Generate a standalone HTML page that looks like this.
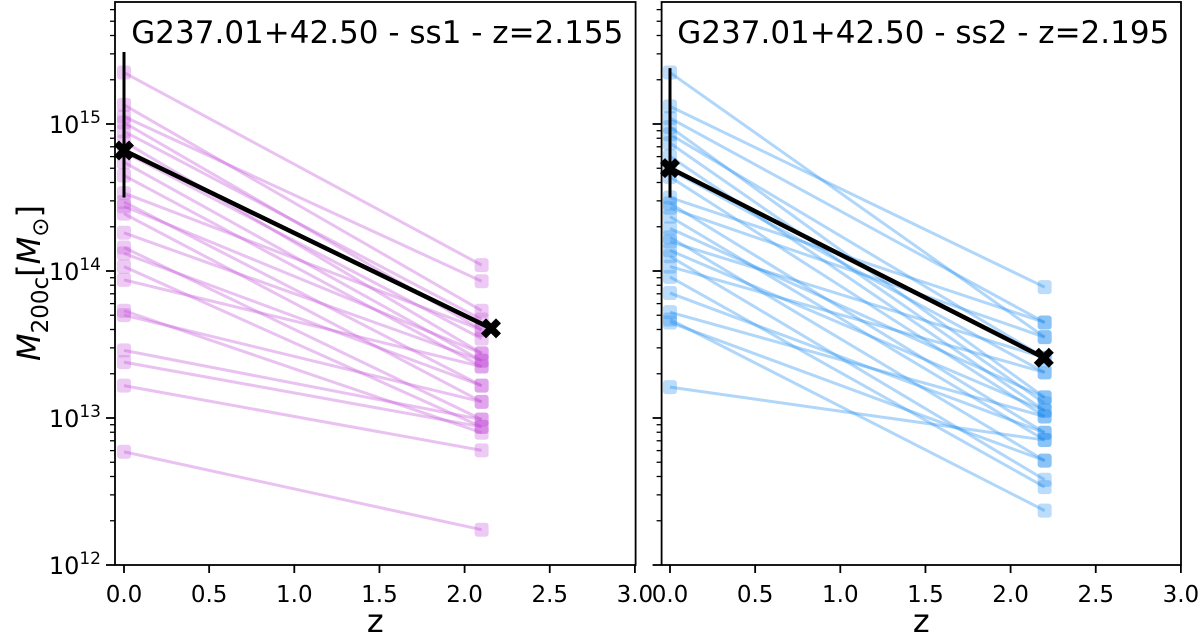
<!DOCTYPE html>
<html><head><meta charset="utf-8"><style>
body{margin:0;background:#fff}
svg text{font-family:"DejaVu Sans","Liberation Sans",sans-serif;fill:#000}
</style></head><body>
<svg id="chart" width="1200" height="638" viewBox="0 0 1200 638" xmlns="http://www.w3.org/2000/svg"></svg>
<script>
// Panel 1 (ss1) data: log10 M200c
const ss1Titles = "G237.01+42.50 - ss1 - z=2.155";
const ss1Z0 = [15.35,15.13,15.05,15.01,14.95,14.88,14.81,14.74,14.65,14.53,14.47,14.44,14.39,14.26,14.16,14.12,14.03,13.94,13.73,13.70,13.46,13.38,13.22,12.77];
const ss1Zend = [14.04,13.73,13.93,13.60,13.67,13.44,13.54,13.39,13.35,13.60,13.22,13.44,13.11,13.39,12.99,13.22,12.94,13.35,12.90,13.11,12.99,12.94,12.78,12.24];
const ss1ZendX = 2.1;
const ss1Mean = [14.82, 13.61];
const ss1MeanX = [0.0, 2.155];
const ss1Err = [14.50, 15.49];
// Panel 2 (ss2)
const ss2Titles = "G237.01+42.50 - ss2 - z=2.195";
const ss2Z0 = [15.35,15.12,15.04,14.98,14.93,14.87,14.78,14.69,14.64,14.50,14.46,14.43,14.37,14.29,14.23,14.20,14.14,14.10,14.03,13.96,13.85,13.72,13.67,13.65,13.21];
const ss2Zend = [13.55,13.89,13.65,13.14,13.41,13.10,13.05,13.31,13.01,13.65,12.90,13.55,12.85,13.14,12.71,13.41,13.05,12.58,13.31,12.53,12.90,13.01,12.37,12.71,12.85];
const ss2ZendX = 2.2;
const ss2Mean = [14.70, 13.41];
const ss2MeanX = [0.0, 2.195];
const ss2Err = [14.50, 15.38];
const xTicks = [0,0.5,1,1.5,2,2.5,3];
const xTickLabels = ["0.0","0.5","1.0","1.5","2.0","2.5","3.0"];
const yTicks = [12,13,14,15];

const NS="http://www.w3.org/2000/svg";
const svg=document.getElementById('chart');
function mk(tag,attrs,parent){const e=document.createElementNS(NS,tag);for(const k in attrs)e.setAttribute(k,attrs[k]);(parent||svg).appendChild(e);return e;}
const TOP=2,BOT=565,YMIN=12,YMAX=12+(BOT-TOP)/147;
function yS(v){return BOT-(v-YMIN)/(YMAX-YMIN)*(BOT-TOP);}

function panel(left,right,z0x,title,z0,zend,zendX,mean,meanX,err,color,showY,name){
  const g=mk('g',{});
  
  
  const xS=v=>z0x+v*170.3;
  for(let i=0;i<z0.length;i++){
    const l=mk('line',{x1:xS(0),y1:yS(z0[i]),x2:xS(zendX),y2:yS(zend[i]),stroke:color,'stroke-opacity':0.35,'stroke-width':3},g);
    
    
  }
  const pts=[];
  z0.forEach(v=>pts.push([0,v]));zend.forEach(v=>pts.push([zendX,v]));
  pts.forEach(p=>{
    const r=mk('rect',{x:xS(p[0])-7,y:yS(p[1])-7,width:14,height:14,rx:3,fill:color,'fill-opacity':0.3},g);
    
    
  });
  const eb=mk('line',{x1:xS(meanX[0]),x2:xS(meanX[0]),y1:yS(err[0]),y2:yS(err[1]),stroke:'#000','stroke-width':3},g);
  
  
  const ml=mk('line',{x1:xS(meanX[0]),y1:yS(mean[0]),x2:xS(meanX[1]),y2:yS(mean[1]),stroke:'#000','stroke-width':4.5},g);
  
  
  for(let i=0;i<2;i++){
    const cx=xS(meanX[i]),cy=yS(mean[i]);
    const a=10,b=5;
    const m=mk('path',{d:`M${cx-a},${cy-b}L${cx-b},${cy-a}L${cx},${cy-b}L${cx+b},${cy-a}L${cx+a},${cy-b}L${cx+b},${cy}L${cx+a},${cy+b}L${cx+b},${cy+a}L${cx},${cy+b}L${cx-b},${cy+a}L${cx-a},${cy+b}L${cx-b},${cy}Z`,fill:'#000'},g);
    
    
  }
  const fr=mk('rect',{x:left,y:TOP,width:right-left,height:BOT-TOP,fill:'none',stroke:'#000','stroke-width':1.8},g);
  
  
  xTicks.forEach((t,i)=>{
    mk('line',{x1:xS(t),x2:xS(t),y1:BOT,y2:BOT+8,stroke:'#000','stroke-width':1.8},g);
    const tx=mk('text',{x:xS(t),y:BOT+37,'font-size':23,'text-anchor':'middle'},g);
    tx.textContent=xTickLabels[i];
    
    
  });
  const xl=mk('text',{x:(left+right)/2,y:632,'font-size':32,'text-anchor':'middle'},g);
  xl.textContent='z';
  
  
  for(let d=12;d<16;d++){
    for(let k=2;k<10;k++){const v=d+Math.log10(k);if(v>YMAX)break;
      mk('line',{x1:left-5,x2:left,y1:yS(v),y2:yS(v),stroke:'#000','stroke-width':1.3},g);}
  }
  yTicks.forEach(t=>{
    mk('line',{x1:left-9,x2:left,y1:yS(t),y2:yS(t),stroke:'#000','stroke-width':1.8},g);
    if(showY){
      const tx=mk('text',{x:left-14,y:yS(t)+9,'font-size':24,'text-anchor':'end'},g);
      
      
      const a=document.createElementNS(NS,'tspan');a.textContent='10';tx.appendChild(a);
      const b=document.createElementNS(NS,'tspan');b.setAttribute('dy','-10');b.setAttribute('font-size','17');b.textContent=String(t);tx.appendChild(b);
    }
  });
  const tt=mk('text',{x:(left+right)/2+2,y:43,'font-size':31,'text-anchor':'middle'},g);
  tt.textContent=title;
  
  
}
panel(115,635.6,124,ss1Titles,ss1Z0,ss1Zend,ss1ZendX,ss1Mean,ss1MeanX,ss1Err,'#c44fd6',true,'panel-ss1');
panel(661.6,1181,670,ss2Titles,ss2Z0,ss2Zend,ss2ZendX,ss2Mean,ss2MeanX,ss2Err,'#1e8cf0',false,'panel-ss2');
const yl=mk('text',{x:0,y:0,'font-size':32,'text-anchor':'middle',transform:'translate(40,283) rotate(-90)'});


yl.innerHTML='<tspan font-style="italic">M</tspan><tspan font-size="23" dy="8">200c</tspan><tspan dy="-8">[</tspan><tspan font-style="italic">M</tspan><tspan font-size="23" dy="8">⊙</tspan><tspan dy="-8">]</tspan>';
</script>
</body></html>
